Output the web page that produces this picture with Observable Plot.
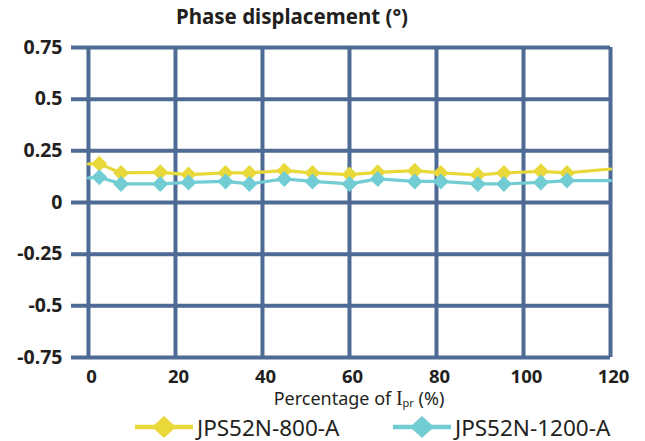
<!DOCTYPE html>
<html>
<head>
<meta charset="utf-8">
<script src="https://cdn.jsdelivr.net/npm/d3@7"></script>
<script src="https://cdn.jsdelivr.net/npm/@observablehq/plot@0.6"></script>
<style>
  html, body { margin: 0; padding: 0; background: #fff; }
  #wrap { position: relative; width: 645px; height: 441px; overflow: hidden; font-family: "Noto Sans", sans-serif; color: #231f20; }
  #title { position: absolute; left: 0; width: 584px; top: 3px; text-align: center; font-weight: bold; font-size: 20.5px; line-height: 27px; }
  #chart { position: absolute; left: 0; top: 30px; }
  #xlabel { position: absolute; left: 0; width: 718px; top: 385px; text-align: center; font-size: 18px; line-height: 26px; }
  #xlabel .I { font-family: "Liberation Serif", serif; font-size: 20px; }
  #xlabel sub { font-size: 11px; vertical-align: -2px; }
  .leg { position: absolute; top: 412px; height: 30px; display: flex; align-items: center; font-size: 22.5px; }
  .leg svg { margin-right: 4px; }
</style>
</head>
<body>
<div id="wrap">
  <div id="title">Phase displacement (°)</div>
  <div id="chart"></div>
  <div id="xlabel">Percentage of <span class="I">I</span><sub>pr</sub> (%)</div>
  <div id="legend"></div>
</div>
<script>
// ---- data ----
const seriesNames = ["JPS52N-800-A", "JPS52N-1200-A"];
const seriesColors = ["#e8d83a", "#72ccd3"];
// x positions (percentage of Ipr); first and last are line ends without markers
const xValues = [0, 2.5, 7.5, 16.5, 23, 31.5, 37, 45, 51.5, 60, 66.5, 75, 81, 89.5, 95.5, 104, 110, 120];
const y800 = [0.187, 0.187, 0.143, 0.146, 0.135, 0.143, 0.143, 0.154, 0.143, 0.135, 0.146, 0.154, 0.143, 0.133, 0.143, 0.151, 0.143, 0.162];
const y1200 = [0.119, 0.122, 0.090, 0.090, 0.097, 0.102, 0.090, 0.114, 0.102, 0.090, 0.114, 0.102, 0.102, 0.090, 0.090, 0.097, 0.106, 0.106];
const xTicks = [0, 20, 40, 60, 80, 100, 120];
const yTicks = [-0.75, -0.5, -0.25, 0, 0.25, 0.5, 0.75];
const yTickLabels = ["-0.75", "-0.5", "-0.25", "0", "0.25", "0.5", "0.75"];

const gridColor = "#4e6b95";

const rows = [];
[y800, y1200].forEach((ys, s) => {
  ys.forEach((v, i) => rows.push({series: seriesNames[s], x: xValues[i], y: v, marker: i > 0 && i < xValues.length - 1}));
});

const chart = Plot.plot({
  width: 645,
  height: 358,
  marginTop: 17,
  marginBottom: 31,
  marginLeft: 71,
  marginRight: 35,
  style: {fontFamily: "Noto Sans, sans-serif", fontSize: "18px", fontWeight: "bold", color: "#231f20", background: "transparent", overflow: "visible"},
  x: {domain: [-3.9, 120], axis: null},
  y: {domain: [-0.75, 0.75], axis: null},
  color: {domain: seriesNames, range: seriesColors},
  marks: [
    Plot.ruleY(yTicks, {stroke: gridColor, strokeWidth: 4, strokeOpacity: 1}),
    Plot.ruleX(xTicks, {stroke: gridColor, strokeWidth: 4, strokeOpacity: 1}),
    Plot.axisX(xTicks, {tickSize: 0, tickPadding: 12, dx: 3, fontSize: 18.5, fontWeight: "bold", tickFormat: d => String(d), label: null}),
    Plot.axisY(yTicks, {tickSize: 0, tickPadding: 9, fontSize: 19.5, fontWeight: "bold", tickFormat: d => yTickLabels[yTicks.indexOf(d)], label: null}),
    Plot.line(rows, {x: "x", y: "y", z: "series", stroke: "series", strokeWidth: 3.2, curve: "linear"}),
    Plot.dot(rows.filter(d => d.marker), {x: "x", y: "y", fill: "series", symbol: "diamond2", r: 7.2, stroke: null})
  ]
});
document.getElementById("chart").appendChild(chart);

// legend
const legendPos = [135, 393];
const legend = document.getElementById("legend");
seriesNames.forEach((name, i) => {
  const item = document.createElement("div");
  item.className = "leg";
  item.style.left = legendPos[i] + "px";
  const ns = "http://www.w3.org/2000/svg";
  const svg = document.createElementNS(ns, "svg");
  svg.setAttribute("width", 58);
  svg.setAttribute("height", 26);
  const ln = document.createElementNS(ns, "line");
  ln.setAttribute("x1", 0); ln.setAttribute("x2", 58);
  ln.setAttribute("y1", 13); ln.setAttribute("y2", 13);
  ln.setAttribute("stroke", seriesColors[i]); ln.setAttribute("stroke-width", 4.5);
  const dm = document.createElementNS(ns, "path");
  dm.setAttribute("d", "M29,2L41,13L29,24L17,13Z");
  dm.setAttribute("fill", seriesColors[i]);
  svg.appendChild(ln); svg.appendChild(dm);
  item.appendChild(svg);
  const t = document.createElement("span");
  t.textContent = name;
  item.appendChild(t);
  legend.appendChild(item);
});
</script>
</body>
</html>
